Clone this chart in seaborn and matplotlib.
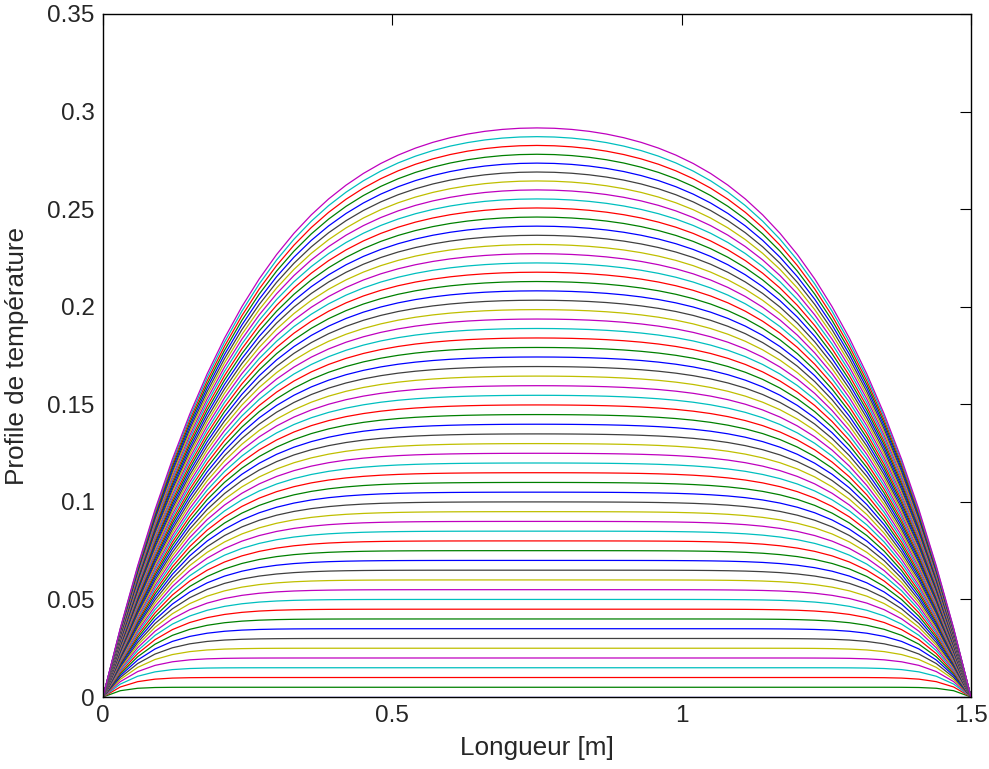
import numpy as np
import pandas as pd
import matplotlib
matplotlib.use("Agg")
import matplotlib.pyplot as plt
import seaborn as sns

# Rod / heat-source model:
# plateau rises 0.005 between profiles, top profile (#60) peaks at ~0.292
length_m = 1.5
n_nodes = 51
diffusivity = 0.25
heat_rate = 1.0
output_step = 0.005
n_profiles = 61

# old MATLAB colour order: b g r c m y k
line_colors = ["#0000ff", "#008000", "#ff0000", "#00bfbf", "#bf00bf", "#bfbf00", "#404040"]

x_ticks = [0, 0.5, 1, 1.5]
x_tick_labels = ["0", "0.5", "1", "1.5"]
y_ticks = [0, 0.05, 0.1, 0.15, 0.2, 0.25, 0.3, 0.35]
y_tick_labels = ["0", "0.05", "0.1", "0.15", "0.2", "0.25", "0.3", "0.35"]


def temperature_profiles():
    x = np.linspace(0, length_m, n_nodes)
    dx = x[1] - x[0]
    sub_steps = 20
    dt = output_step / sub_steps
    u = np.zeros(n_nodes)
    rows = []
    for k in range(n_profiles):
        for xi, ui in zip(x, u):
            rows.append({"x": xi, "T": ui, "profile": k})
        for _ in range(sub_steps):
            lap = np.zeros_like(u)
            lap[1:-1] = (u[2:] - 2 * u[1:-1] + u[:-2]) / dx**2
            u = u + dt * (diffusivity * lap + heat_rate)
            u[0] = 0.0
            u[-1] = 0.0
    return pd.DataFrame(rows)


def main():
    df = temperature_profiles()

    sns.set_style("white")
    plt.rcParams["font.family"] = ["Liberation Sans", "DejaVu Sans"]

    fig = plt.figure(figsize=(9.89, 7.69), dpi=100, facecolor="white")
    ax = fig.add_axes([0.1041, 0.0936, 0.8777, 0.8882])

    palette = [line_colors[k % 7] for k in range(n_profiles)]
    sns.lineplot(
        data=df, x="x", y="T", hue="profile", palette=palette,
        legend=False, linewidth=0.9, ax=ax, estimator=None, sort=False
    )

    ax.set_xlim(0, 1.5)
    ax.set_ylim(0, 0.35)
    ax.set_xticks(x_ticks)
    ax.set_xticklabels(x_tick_labels)
    ax.set_yticks(y_ticks)
    ax.set_yticklabels(y_tick_labels)
    ax.tick_params(direction="in", length=8, width=0.8, labelsize=17.5,
                   top=True, right=True, color="black", pad=6)
    for s in ax.spines.values():
        s.set_visible(True)
        s.set_color("black")
        s.set_linewidth(1.0)

    ax.set_xlabel("Longueur [m]", fontsize=18.8, labelpad=6)
    ax.set_ylabel("Profile de température", fontsize=18.8, labelpad=13)

    fig.savefig("out.png", dpi=100, facecolor="white")


if __name__ == "__main__":
    main()
